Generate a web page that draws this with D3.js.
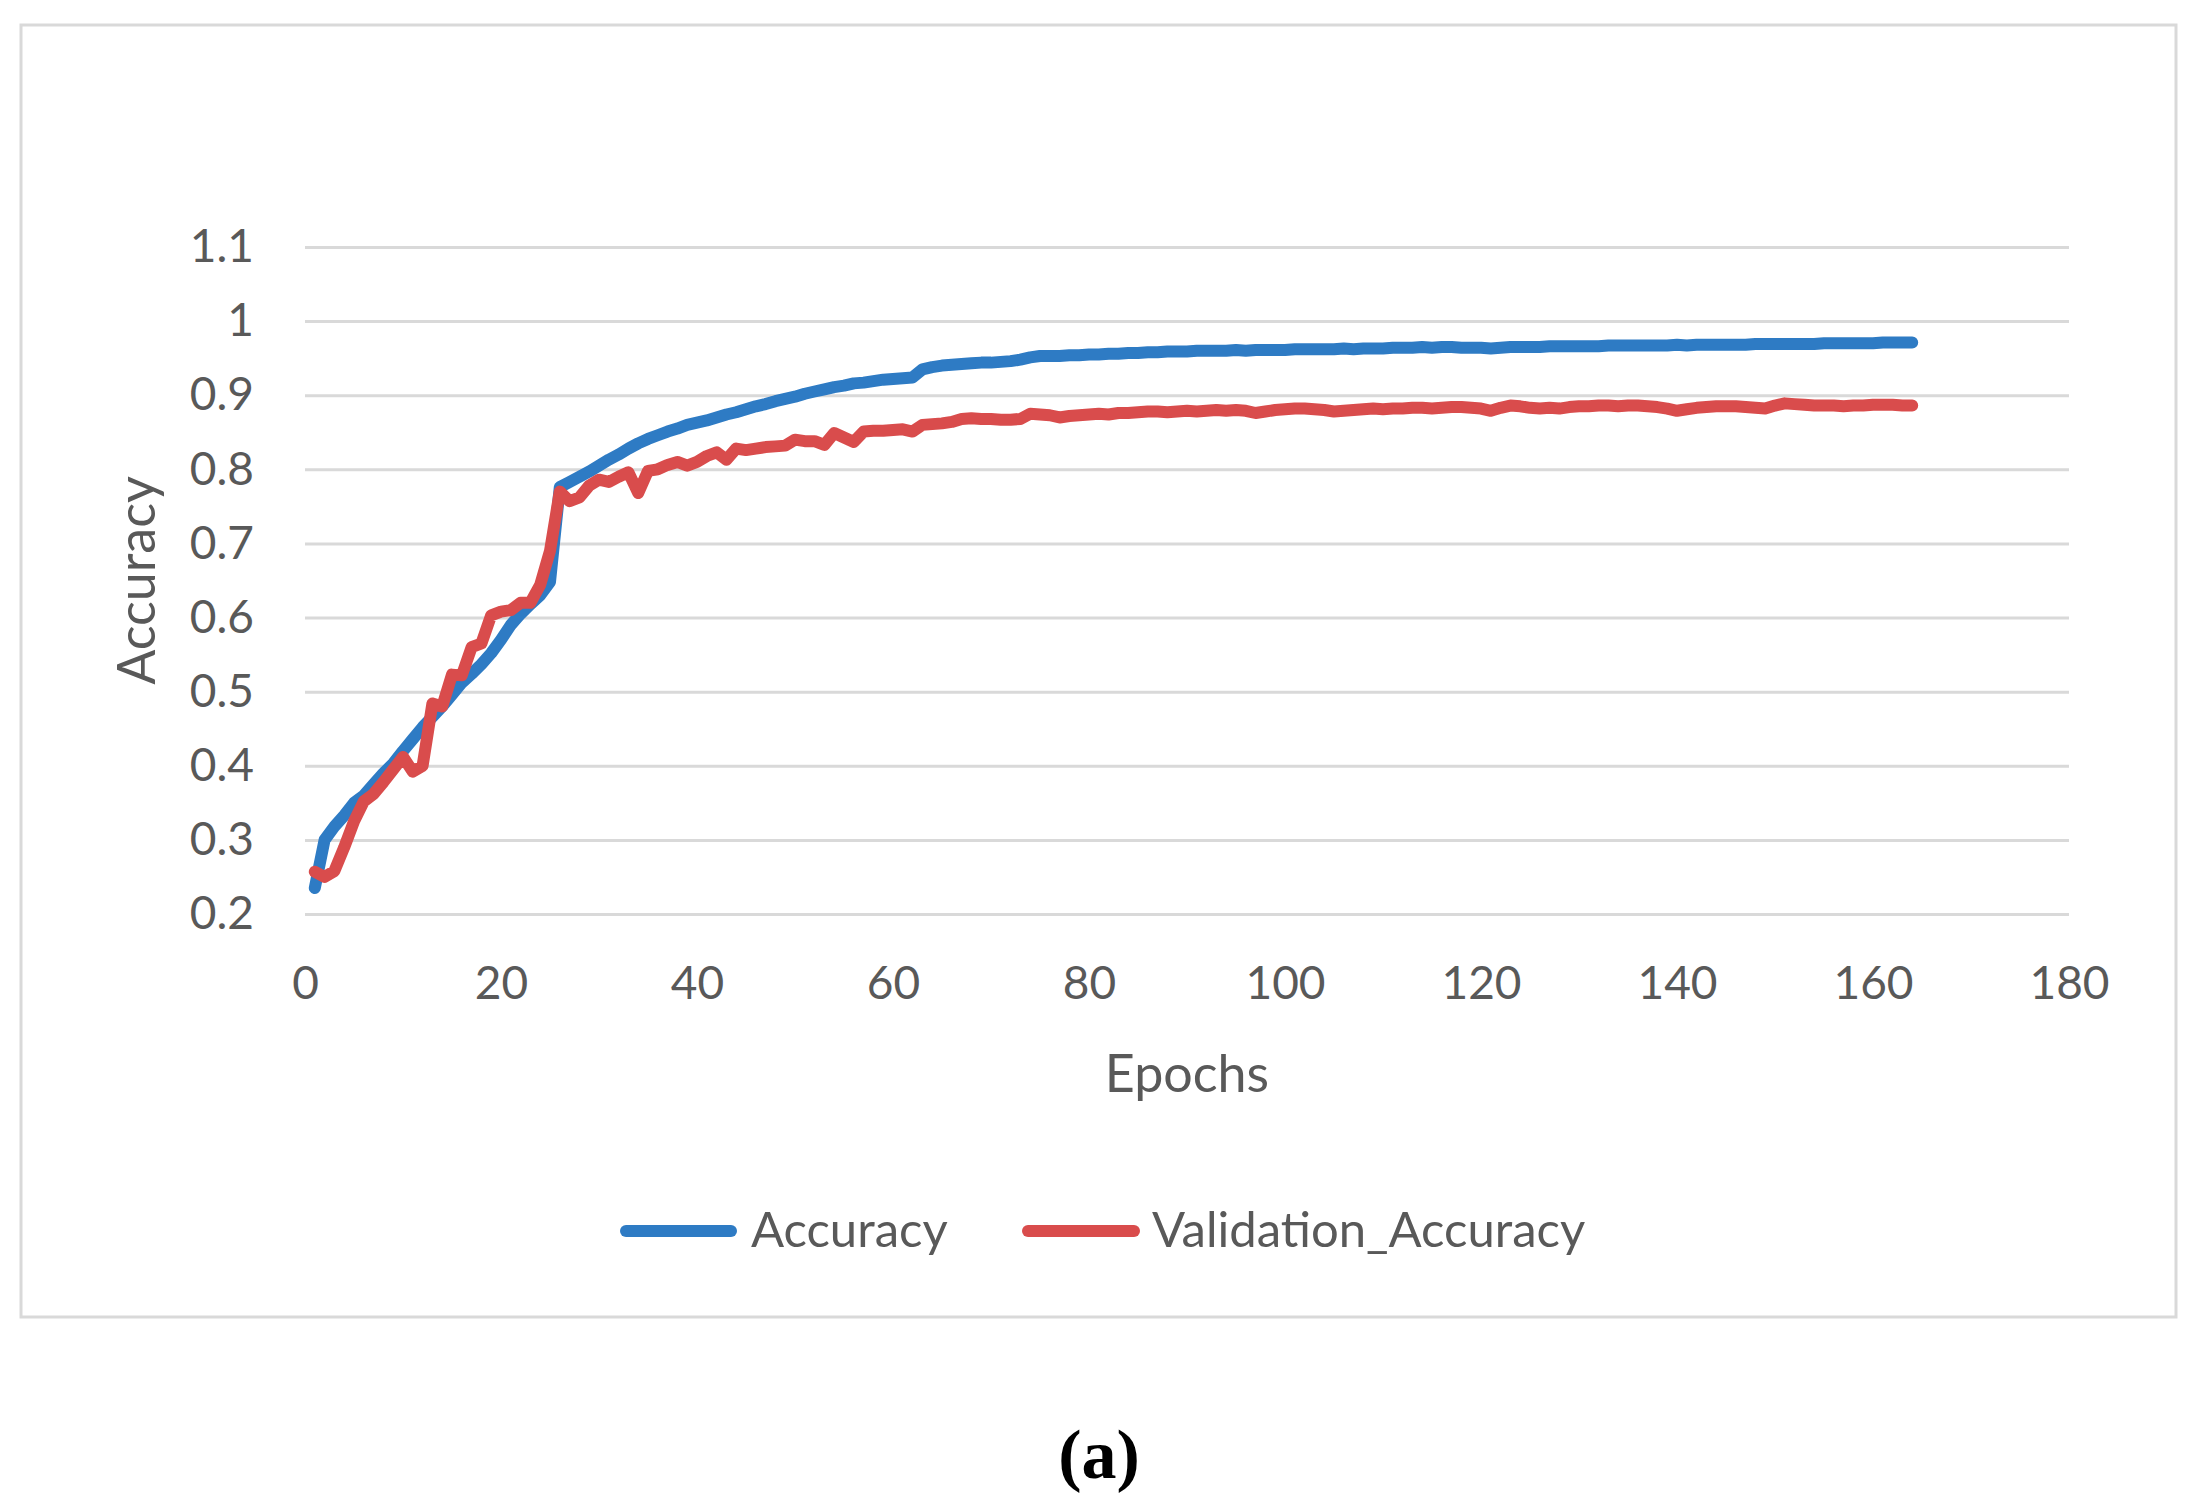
<!DOCTYPE html>
<html>
<head>
<meta charset="utf-8">
<script src="https://cdn.jsdelivr.net/npm/d3@7"></script>
<style>
  body { margin: 0; background: #fff; }
  .tick text { fill: #595959; font-family: Lato, "Open Sans", sans-serif; }
</style>
</head>
<body>
<div id="chart"></div>
<script>

var width = 2193,
height = 1504;

// data, one value per epoch (1..164)
var accuracy = [
  0.235, 0.300, 0.318, 0.333, 0.350, 0.360, 0.375, 0.390, 0.403, 0.420,
  0.436, 0.452, 0.466, 0.480, 0.496, 0.512, 0.524, 0.537, 0.552, 0.570,
  0.590, 0.605, 0.618, 0.630, 0.648, 0.776, 0.783, 0.790, 0.797, 0.805,
  0.813, 0.820, 0.828, 0.835, 0.841, 0.846, 0.851, 0.855, 0.860, 0.863,
  0.866, 0.870, 0.874, 0.877, 0.881, 0.885, 0.888, 0.892, 0.895, 0.898,
  0.902, 0.905, 0.908, 0.911, 0.913, 0.916, 0.917, 0.919, 0.921, 0.922,
  0.923, 0.924, 0.935, 0.938, 0.940, 0.941, 0.942, 0.943, 0.944, 0.944,
  0.945, 0.946, 0.948, 0.951, 0.953, 0.953, 0.953, 0.954, 0.954, 0.955,
  0.955, 0.956, 0.956, 0.957, 0.957, 0.958, 0.958, 0.959, 0.959, 0.959,
  0.960, 0.960, 0.960, 0.960, 0.961, 0.960, 0.961, 0.961, 0.961, 0.961,
  0.962, 0.962, 0.962, 0.962, 0.962, 0.963, 0.962, 0.963, 0.963, 0.963,
  0.964, 0.964, 0.964, 0.965, 0.964, 0.965, 0.965, 0.964, 0.964, 0.964,
  0.963, 0.964, 0.965, 0.965, 0.965, 0.965, 0.966, 0.966, 0.966, 0.966,
  0.966, 0.966, 0.967, 0.967, 0.967, 0.967, 0.967, 0.967, 0.967, 0.968,
  0.967, 0.968, 0.968, 0.968, 0.968, 0.968, 0.968, 0.969, 0.969, 0.969,
  0.969, 0.969, 0.969, 0.969, 0.970, 0.970, 0.970, 0.970, 0.970, 0.970,
  0.971, 0.971, 0.971, 0.971
];

var validation = [
  0.257, 0.250, 0.258, 0.290, 0.325, 0.352, 0.362, 0.378, 0.395, 0.412,
  0.392, 0.400, 0.484, 0.480, 0.523, 0.522, 0.560, 0.565, 0.603, 0.608,
  0.610, 0.620, 0.620, 0.644, 0.690, 0.770, 0.757, 0.762, 0.778, 0.786,
  0.783, 0.790, 0.796, 0.768, 0.798, 0.800, 0.806, 0.810, 0.805, 0.810,
  0.818, 0.823, 0.813, 0.828, 0.826, 0.828, 0.830, 0.831, 0.832, 0.840,
  0.838, 0.838, 0.833, 0.849, 0.843, 0.837, 0.851, 0.852, 0.852, 0.853,
  0.854, 0.851, 0.860, 0.861, 0.862, 0.864, 0.868, 0.869, 0.868, 0.868,
  0.867, 0.867, 0.868, 0.875, 0.874, 0.873, 0.870, 0.872, 0.873, 0.874,
  0.875, 0.874, 0.876, 0.876, 0.877, 0.878, 0.878, 0.877, 0.878, 0.879,
  0.878, 0.879, 0.880, 0.879, 0.880, 0.879, 0.876, 0.878, 0.880, 0.881,
  0.882, 0.882, 0.881, 0.880, 0.878, 0.879, 0.880, 0.881, 0.882, 0.881,
  0.882, 0.882, 0.883, 0.883, 0.882, 0.883, 0.884, 0.884, 0.883, 0.882,
  0.879, 0.883, 0.886, 0.885, 0.883, 0.882, 0.883, 0.882, 0.884, 0.885,
  0.885, 0.886, 0.886, 0.885, 0.886, 0.886, 0.885, 0.884, 0.882, 0.879,
  0.881, 0.883, 0.884, 0.885, 0.885, 0.885, 0.884, 0.883, 0.882, 0.886,
  0.889, 0.888, 0.887, 0.886, 0.886, 0.886, 0.885, 0.886, 0.886, 0.887,
  0.887, 0.887, 0.886, 0.886
];

var seriesNames = ["Accuracy", "Validation_Accuracy"];
var xTicks = [0, 20, 40, 60, 80, 100, 120, 140, 160, 180];
var yTicks = [0.2, 0.3, 0.4, 0.5, 0.6, 0.7, 0.8, 0.9, 1, 1.1];

var colours = ["#2E7BC4", "#D94C4C"];
var textColour = "#595959";
var font = "Lato, 'Open Sans', sans-serif";

var margin = {left: 305, right: 2069, top: 247, bottom: 914};

var svg = d3.select("#chart")
.append("svg")
.attr("width", width)
.attr("height", height);

svg.append("rect")
.attr("width", width)
.attr("height", height)
.style("fill", "white");

// chart frame
svg.append("rect")
.attr("x", 21)
.attr("y", 25)
.attr("width", 2155)
.attr("height", 1292)
.style("fill", "none")
.style("stroke", "#d9d9d9")
.style("stroke-width", 3);

var xScale = d3.scaleLinear()
.domain([0, 180])
.range([margin.left, margin.right]);

var yScale = d3.scaleLinear()
.domain([0.2, 1.1])
.range([margin.bottom, margin.top]);

// y axis with gridlines
var yAxis = d3.axisLeft(yScale)
.tickValues(yTicks)
.tickFormat(d3.format("~g"))
.tickSize(-(margin.right - margin.left))
.tickPadding(51);

var yG = svg.append("g")
.attr("transform", "translate(" + margin.left + ",0)")
.call(yAxis);
yG.select(".domain").remove();
yG.selectAll(".tick line")
.style("stroke", "#d9d9d9")
.style("stroke-width", 3);
yG.selectAll(".tick text")
.style("font-size", "46px")
.style("font-family", font)
.style("fill", textColour);

// x axis, labels only
var xAxis = d3.axisBottom(xScale)
.tickValues(xTicks)
.tickSize(0)
.tickPadding(52);

var xG = svg.append("g")
.attr("transform", "translate(0," + margin.bottom + ")")
.call(xAxis);
xG.select(".domain").remove();
xG.selectAll(".tick text")
.style("font-size", "46px")
.style("font-family", font)
.style("fill", textColour);

// axis titles
svg.append("text")
.attr("x", (margin.left + margin.right) / 2)
.attr("y", 1092)
.attr("text-anchor", "middle")
.style("font-size", "52px")
.style("font-family", font)
.style("fill", textColour)
.text("Epochs");

svg.append("text")
.attr("transform", "translate(155," + ((margin.top + margin.bottom) / 2) + ") rotate(-90)")
.attr("text-anchor", "middle")
.style("font-size", "52px")
.style("font-family", font)
.style("fill", textColour)
.text("Accuracy");

// lines
var line = d3.line()
.x(function(d, i) { return xScale(i + 1); })
.y(function(d) { return yScale(d); });

[accuracy, validation].forEach(function(series, k) {
  svg.append("path")
  .datum(series)
  .attr("d", line)
  .style("fill", "none")
  .style("stroke", colours[k])
  .style("stroke-width", 12)
  .style("stroke-linecap", "round")
  .style("stroke-linejoin", "round");
});

// legend
var legendItems = [
  {x1: 626, x2: 731, tx: 751},
  {x1: 1028, x2: 1134, tx: 1152}
];
var legendY = 1231;

legendItems.forEach(function(item, k) {
  svg.append("line")
  .attr("x1", item.x1)
  .attr("x2", item.x2)
  .attr("y1", legendY)
  .attr("y2", legendY)
  .style("stroke", colours[k])
  .style("stroke-width", 12)
  .style("stroke-linecap", "round");

  svg.append("text")
  .attr("x", item.tx)
  .attr("y", legendY + 16)
  .style("font-size", "49px")
  .style("font-family", font)
  .style("fill", textColour)
  .text(seriesNames[k]);
});

// sub-figure label
svg.append("text")
.attr("x", 1099)
.attr("y", 1478)
.attr("text-anchor", "middle")
.style("font-size", "70px")
.style("font-family", "'Liberation Serif', 'Times New Roman', serif")
.style("font-weight", "bold")
.style("fill", "#000")
.text("(a)");

</script>
</body>
</html>
